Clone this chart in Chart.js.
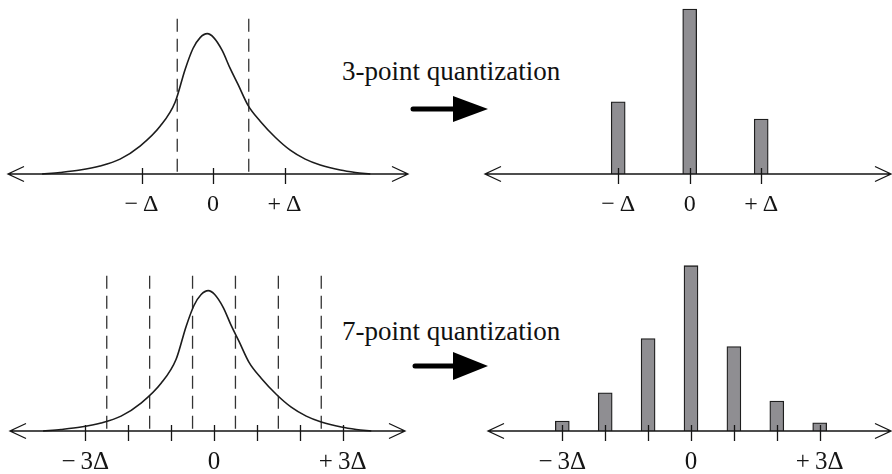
<!DOCTYPE html>
<html>
<head>
<meta charset="utf-8">
<script src="https://cdn.jsdelivr.net/npm/chart.js@4.4.1/dist/chart.umd.min.js"></script>
<style>
  html, body { margin: 0; padding: 0; background: #fff; }
  body { width: 892px; height: 474px; position: relative; overflow: hidden; font-family: "Liberation Serif", serif; }
  canvas { position: absolute; }
  .caption { position: absolute; font-size: 27px; line-height: 27px; color: #111; white-space: nowrap; }
</style>
</head>
<body>
<svg style="position:absolute;left:0;top:0" width="892" height="474">
  <line x1="413" y1="109" x2="456" y2="109" stroke="#000" stroke-width="5" stroke-linecap="round"/>
  <polygon points="453,96 488,109 453,122" fill="#000"/>
  <line x1="415" y1="366" x2="456" y2="366" stroke="#000" stroke-width="5" stroke-linecap="round"/>
  <polygon points="453,352 488,366 453,380" fill="#000"/>
</svg>
<div class="caption" style="left:342px;top:58px">3-point quantization</div>
<div class="caption" style="left:342px;top:318px">7-point quantization</div>

<canvas id="pdf3" width="420" height="250" style="left:0;top:0"></canvas>
<canvas id="hist3" width="412" height="250" style="left:480px;top:0"></canvas>
<canvas id="pdf7" width="420" height="270" style="left:0;top:240px"></canvas>
<canvas id="hist7" width="412" height="270" style="left:480px;top:240px"></canvas>

<script>
// density curve, x in units of the 3-point step, y relative to the peak
const curveX = [-2.39, -2.14, -1.86, -1.58, -1.30, -1.02, -0.74, -0.53, -0.39, -0.28, -0.18, -0.08, 0.01,
                0.13, 0.24, 0.35, 0.49, 0.66, 0.87, 1.08, 1.29, 1.50, 1.78, 1.99, 2.20];
const curveY = [0, 0.011, 0.028, 0.057, 0.106, 0.199, 0.340, 0.511, 0.745, 0.894, 0.972, 1.0, 0.972,
                0.879, 0.752, 0.638, 0.489, 0.376, 0.262, 0.170, 0.106, 0.064, 0.028, 0.011, 0];

const step3 = 1;
const step7 = 0.6;

const levels3 = [-1, 0, 1];
const prob3 = [0.247, 0.565, 0.188];
const labels3 = ['−\u2009Δ', '0', '+\u2009Δ'];
const cuts3 = [-0.5, 0.5];

const levels7 = [-3, -2, -1, 0, 1, 2, 3];
const prob7 = [0.023, 0.089, 0.216, 0.386, 0.197, 0.070, 0.019];
const labels7 = ['−\u20093Δ', '', '', '0', '', '', '+\u20093Δ'];
const cuts7 = [-2.5, -1.5, -0.5, 0.5, 1.5, 2.5];

const cutTop = 1.106;   // height of dashed lines, same units as curveY

const INK = '#151515';
const PX_PER_STEP = 71.5;   // pixels per 3-point step

// number line: axis with open arrows and tick marks
const numberLine = {
  id: 'numberLine',
  afterDatasetsDraw(chart) {
    const { ctx, chartArea: a, scales: { x, y } } = chart;
    const y0 = y.getPixelForValue(0);
    ctx.save();
    ctx.strokeStyle = INK;
    ctx.lineWidth = 1.3;
    ctx.beginPath();
    ctx.moveTo(a.left, y0);
    ctx.lineTo(a.right, y0);
    ctx.moveTo(a.left + 16, y0 - 7.5);
    ctx.lineTo(a.left, y0);
    ctx.lineTo(a.left + 16, y0 + 7.5);
    ctx.moveTo(a.right - 16, y0 - 7.5);
    ctx.lineTo(a.right, y0);
    ctx.lineTo(a.right - 16, y0 + 7.5);
    x.ticks.forEach(t => {
      const px = Math.round(x.getPixelForValue(t.value)) + 0.5;
      ctx.moveTo(px, y0 - 6);
      ctx.lineTo(px, y0 + 10);
    });
    ctx.stroke();
    ctx.restore();
  }
};

function makePanel(id, cfg) {
  const canvas = document.getElementById(id);
  const xMin = (cfg.left - cfg.origin) / PX_PER_STEP;
  const xMax = (canvas.width - cfg.right - cfg.origin) / PX_PER_STEP;
  const chart = new Chart(canvas, {
    type: cfg.type,
    data: { datasets: cfg.datasets },
    options: {
      responsive: false,
      animation: false,
      events: [],
      layout: { padding: { left: cfg.left, right: cfg.right, top: 0, bottom: 0 } },
      plugins: { legend: { display: false }, tooltip: { enabled: false } },
      scales: {
        x: {
          type: 'linear',
          offset: false,
          min: xMin,
          max: xMax,
          afterBuildTicks: s => { s.ticks = cfg.levels.map(k => ({ value: k * cfg.step })); },
          grid: { display: false, drawTicks: false },
          border: { display: false },
          ticks: {
            autoSkip: false,
            maxRotation: 0,
            padding: 16,
            color: INK,
            font: { family: 'Liberation Serif', size: cfg.fontSize },
            callback: (v, i) => cfg.labels[i]
          }
        },
        y: { display: false, min: 0, max: cfg.yMax }
      }
    },
    plugins: [numberLine]
  });
  // put the axis line where it should be
  const diff = cfg.axisY - chart.chartArea.bottom;
  chart.options.layout.padding.bottom = -diff;
  chart.update('none');
  return chart;
}

function curveSets(cuts, step) {
  const sets = [{
    data: curveX.map((x, i) => ({ x, y: curveY[i] })),
    borderColor: '#1c1c1c',
    borderWidth: 1.6,
    pointRadius: 0,
    cubicInterpolationMode: 'monotone',
    fill: false,
    clip: false
  }];
  cuts.forEach(c => sets.push({
    data: [{ x: c * step, y: cutTop }, { x: c * step, y: 0 }],
    borderColor: '#333',
    borderWidth: 1.3,
    borderDash: [13, 7],
    pointRadius: 0,
    fill: false
  }));
  return sets;
}

function barSets(levels, probs, step) {
  return [{
    data: levels.map((k, i) => ({ x: k * step, y: probs[i] })),
    backgroundColor: '#8f8e92',
    borderColor: '#1e1e1e',
    borderWidth: 1.3,
    barThickness: 14
  }];
}

makePanel('pdf3', {
  type: 'line', left: 8, right: 12, origin: 213, axisY: 174, yMax: 174 / 141,
  levels: levels3, step: step3, labels: labels3, fontSize: 24,
  datasets: curveSets(cuts3, step3)
});

makePanel('hist3', {
  type: 'bar', left: 5, right: 1, origin: 209.7, axisY: 174, yMax: 0.565 * 174 / 165,
  levels: levels3, step: step3, labels: labels3, fontSize: 24,
  datasets: barSets(levels3, prob3, step3)
});

makePanel('pdf7', {
  type: 'line', left: 10, right: 15, origin: 214, axisY: 191, yMax: 191 / 141,
  levels: levels7, step: step7, labels: labels7, fontSize: 25,
  datasets: curveSets(cuts7, step7)
});

makePanel('hist7', {
  type: 'bar', left: 8, right: 1, origin: 211, axisY: 191, yMax: 0.386 * 191 / 165.3,
  levels: levels7, step: step7, labels: labels7, fontSize: 25,
  datasets: barSets(levels7, prob7, step7)
});
</script>
</body>
</html>
